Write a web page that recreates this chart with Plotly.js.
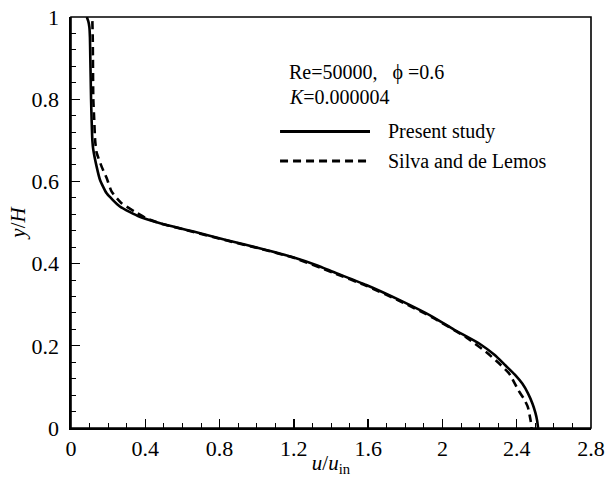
<!DOCTYPE html>
<html>
<head>
<meta charset="utf-8">
<script src="https://cdn.plot.ly/plotly-3.0.1.min.js"></script>
<style>html,body{margin:0;padding:0;background:#fff;}#chart{width:614px;height:477px;}</style>
</head>
<body>
<div id="chart"></div>
<script>
// Present study (solid)
var presentU = [0.085,0.093,0.099,0.102,0.104,0.106,0.108,0.111,0.115,0.12,0.138,0.156,0.192,0.263,0.37,0.48,0.586,0.66,0.84,1.02,1.20,1.33,1.41,1.59,1.77,1.95,2.06,2.2,2.28,2.34,2.39,2.43,2.46,2.485,2.5,2.51,2.515];
var presentY = [1.0,0.99,0.975,0.95,0.9,0.85,0.8,0.75,0.70,0.677,0.636,0.604,0.571,0.539,0.514,0.498,0.486,0.478,0.457,0.437,0.415,0.395,0.380,0.348,0.311,0.270,0.24,0.205,0.178,0.152,0.13,0.108,0.085,0.059,0.038,0.018,0.0];
// Silva and de Lemos (dashed)
var silvaU = [0.115,0.117,0.118,0.12,0.125,0.13,0.138,0.165,0.192,0.219,0.272,0.344,0.407,0.48,0.66,0.84,1.02,1.20,1.41,1.59,1.77,1.95,2.13,2.24,2.31,2.36,2.41,2.44,2.46,2.475,2.48];
var silvaY = [0.99,0.95,0.9,0.8,0.75,0.70,0.67,0.636,0.608,0.575,0.547,0.526,0.51,0.498,0.477,0.456,0.436,0.414,0.378,0.346,0.309,0.268,0.22,0.183,0.155,0.132,0.091,0.07,0.051,0.018,0.0];

var xTickVals = [0,0.4,0.8,1.2,1.6,2,2.4,2.8];
var xTickText = ['0','0.4','0.8','1.2','1.6','2','2.4','2.8'];
var yTickVals = [0,0.2,0.4,0.6,0.8,1];
var yTickText = ['0','0.2','0.4','0.6','0.8','1'];

var font = 'Liberation Serif';

var traces = [
  {x: presentU, y: presentY, mode: 'lines', line: {color: '#000', width: 2.6, shape: 'spline', smoothing: 0.5}, showlegend: false},
  {x: silvaU, y: silvaY, mode: 'lines', line: {color: '#000', width: 2.6, dash: '8px,5px', shape: 'spline', smoothing: 0.5}, showlegend: false}
];

var layout = {
  width: 614, height: 477,
  margin: {l: 71, r: 23, t: 17, b: 49},
  paper_bgcolor: '#fff', plot_bgcolor: '#fff',
  font: {family: font, size: 20, color: '#000'},
  xaxis: {
    range: [0, 2.8], tickvals: xTickVals, ticktext: xTickText,
    ticks: 'inside', ticklen: 9, tickwidth: 1.3, tickcolor: '#000',
    showgrid: false, zeroline: false, showline: true, linecolor: '#000', linewidth: 1.6,
    minor: {dtick: 0.1, ticks: 'inside', ticklen: 5, tickwidth: 1, tickcolor: '#000', showgrid: false},
    tickfont: {family: font, size: 22, color: '#000'},
    title: {text: '<i>u</i>/<i>u</i><sub>in</sub>', font: {family: font, size: 21, color: '#000'}, standoff: 0}
  },
  yaxis: {
    range: [0, 1], tickvals: yTickVals, ticktext: yTickText,
    ticks: 'inside', ticklen: 9, tickwidth: 1.3, tickcolor: '#000',
    showgrid: false, zeroline: false, showline: true, linecolor: '#000', linewidth: 1.6,
    minor: {dtick: 0.04, ticks: 'inside', ticklen: 5, tickwidth: 1, tickcolor: '#000', showgrid: false},
    tickfont: {family: font, size: 22, color: '#000'},
    ticklabelstandoff: 6,
    title: {text: '<i>y</i>/<i>H</i>', font: {family: font, size: 21, color: '#000'}, standoff: 0}
  },
  shapes: [
    {type: 'rect', xref: 'paper', yref: 'paper', x0: 0, x1: 1, y0: 0, y1: 1, line: {color: '#000', width: 1.6}},
    {type: 'line', xref: 'paper', yref: 'paper', x0: 0.402, x1: 0.575, y0: 0.7214, y1: 0.7214, line: {color: '#000', width: 2.8}},
    {type: 'line', xref: 'paper', yref: 'paper', x0: 0.402, x1: 0.575, y0: 0.6496, y1: 0.6496, line: {color: '#000', width: 2.8, dash: '8px,5px'}}
  ],
  annotations: [
    {xref: 'paper', yref: 'paper', x: 0.415, y: 0.866, xanchor: 'left', yanchor: 'middle', showarrow: false,
     text: 'Re=50000,\u00a0\u00a0 ϕ =0.6', font: {family: font, size: 20, color: '#000'}},
    {xref: 'paper', yref: 'paper', x: 0.415, y: 0.805, xanchor: 'left', yanchor: 'middle', showarrow: false,
     text: '<i>K</i>=0.000004', font: {family: font, size: 20, color: '#000'}},
    {xref: 'paper', yref: 'paper', x: 0.605, y: 0.7214, xanchor: 'left', yanchor: 'middle', showarrow: false,
     text: 'Present study', font: {family: font, size: 20, color: '#000'}},
    {xref: 'paper', yref: 'paper', x: 0.605, y: 0.6496, xanchor: 'left', yanchor: 'middle', showarrow: false,
     text: 'Silva and de Lemos', font: {family: font, size: 20, color: '#000'}}
  ]
};

Plotly.newPlot('chart', traces, layout, {displayModeBar: false, staticPlot: true});
</script>
</body>
</html>
